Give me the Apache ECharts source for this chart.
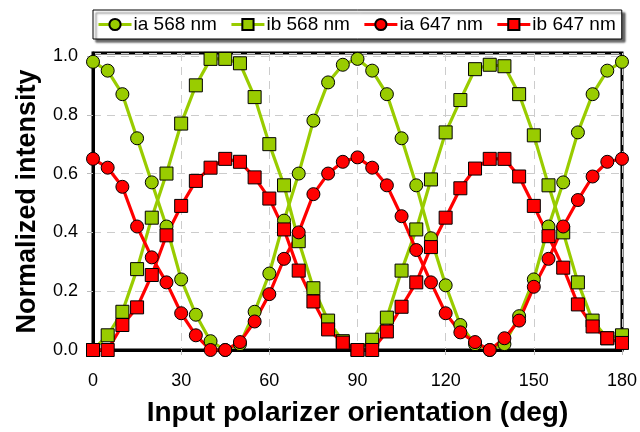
<!DOCTYPE html>
<html><head><meta charset="utf-8">
<script src="https://cdn.jsdelivr.net/npm/echarts@6/dist/echarts.min.js"></script>
<style>html,body{margin:0;padding:0;background:#fff}#c{width:640px;height:432px}</style>
</head><body><div id="c"></div>
<script>
const angles = [0,5,10,15,20,25,30,35,40,45,50,55,60,65,70,75,80,85,90,95,100,105,110,115,120,125,130,135,140,145,150,155,160,165,170,175,180];
const ia568 = [0.98,0.95,0.87,0.72,0.57,0.42,0.24,0.12,0.03,0.0,0.02,0.13,0.26,0.44,0.60,0.78,0.91,0.97,0.99,0.95,0.87,0.72,0.56,0.38,0.22,0.085,0.02,0.0,0.02,0.115,0.24,0.42,0.57,0.74,0.87,0.95,0.98];
const ib568 = [0.0,0.05,0.13,0.275,0.45,0.60,0.77,0.90,0.99,0.99,0.975,0.86,0.70,0.56,0.37,0.21,0.10,0.03,0.0,0.035,0.11,0.27,0.41,0.58,0.74,0.85,0.955,0.97,0.965,0.87,0.73,0.56,0.40,0.23,0.10,0.04,0.05];
const ia647 = [0.65,0.62,0.555,0.42,0.315,0.23,0.125,0.05,0.0,0.0,0.027,0.097,0.19,0.31,0.40,0.53,0.60,0.64,0.655,0.62,0.56,0.455,0.34,0.23,0.125,0.06,0.027,0.0,0.04,0.10,0.215,0.31,0.42,0.51,0.59,0.64,0.65];
const ib647 = [0.0,0.0,0.085,0.145,0.255,0.39,0.49,0.575,0.62,0.65,0.64,0.587,0.515,0.41,0.27,0.165,0.07,0.025,0.0,0.0,0.063,0.147,0.23,0.35,0.45,0.55,0.617,0.65,0.65,0.59,0.49,0.387,0.28,0.155,0.08,0.04,0.024];
const seriesNames = ['ia 568 nm','ib 568 nm','ia 647 nm','ib 647 nm'];
const xTitle = 'Input polarizer orientation (deg)';
const yTitle = 'Normalized intensity';

const GREEN = '#99cc00', RED = '#ff0000';
const FONT = '"Liberation Sans", Arial, sans-serif';
function mk(name, vals, color, symbol){
  return {
    name: name, type: 'line',
    data: angles.map((a,i)=>[a, vals[i]]),
    symbol: symbol, symbolSize: 13, clip: false,
    lineStyle: {color: color, width: 3.2},
    itemStyle: {color: color, borderColor: '#000', borderWidth: 1},
    emphasis: {disabled: true}, animation: false
  };
}
const chart = echarts.init(document.getElementById('c'), null, {renderer:'canvas'});
chart.setOption({
  animation: false,
  backgroundColor: '#fff',
  legend: {
    data: seriesNames,
    left: 93, top: 10,
    padding: [5, 6, 5, 4],
    itemGap: 13, itemWidth: 33, itemHeight: 14,
    backgroundColor: '#fff',
    borderColor: '#000', borderWidth: 1,
    shadowColor: 'rgba(0,0,0,0.6)', shadowOffsetX: 3, shadowOffsetY: 3, shadowBlur: 2,
    lineStyle: {width: 3},
    textStyle: {fontFamily: FONT, fontSize: 19, color: '#000', padding: [0,0,0,-3]}
  },
  grid: {left: 93, right: 18, top: 53, bottom: 80, show: true, borderColor: '#000', borderWidth: 3, containLabel: false},
  xAxis: {
    type: 'value', min: 0, max: 180, interval: 30,
    name: xTitle, nameLocation: 'middle', nameGap: 49,
    nameTextStyle: {fontFamily: FONT, fontSize: 28, fontWeight: 'bold', color: '#000'},
    axisLine: {show: true, lineStyle: {color: '#000', width: 3}},
    axisTick: {show: true, length: 5, lineStyle: {color: '#bbb'}},
    axisLabel: {fontFamily: FONT, fontSize: 18, color: '#000', margin: 22},
    splitLine: {show: true, lineStyle: {color: '#ccc', type: [8,6], width: 1}}
  },
  yAxis: {
    type: 'value', min: 0, max: 1.01, interval: 0.2,
    name: yTitle, nameLocation: 'middle', nameGap: 52,
    nameTextStyle: {fontFamily: FONT, fontSize: 27, fontWeight: 'bold', color: '#000'},
    axisLine: {show: true, lineStyle: {color: '#000', width: 3}},
    axisTick: {show: true, length: 6, lineStyle: {color: '#bbb'}},
    axisLabel: {fontFamily: FONT, fontSize: 18, color: '#000', margin: 15, showMaxLabel: false,
      formatter: v => v.toFixed(1)},
    splitLine: {show: true, lineStyle: {color: '#ccc', type: [8,6], width: 1}}
  },
  series: [
    mk(seriesNames[0], ia568, GREEN, 'circle'),
    mk(seriesNames[1], ib568, GREEN, 'rect'),
    mk(seriesNames[2], ia647, RED, 'circle'),
    mk(seriesNames[3], ib647, RED, 'rect')
  ]
});
</script></body></html>
